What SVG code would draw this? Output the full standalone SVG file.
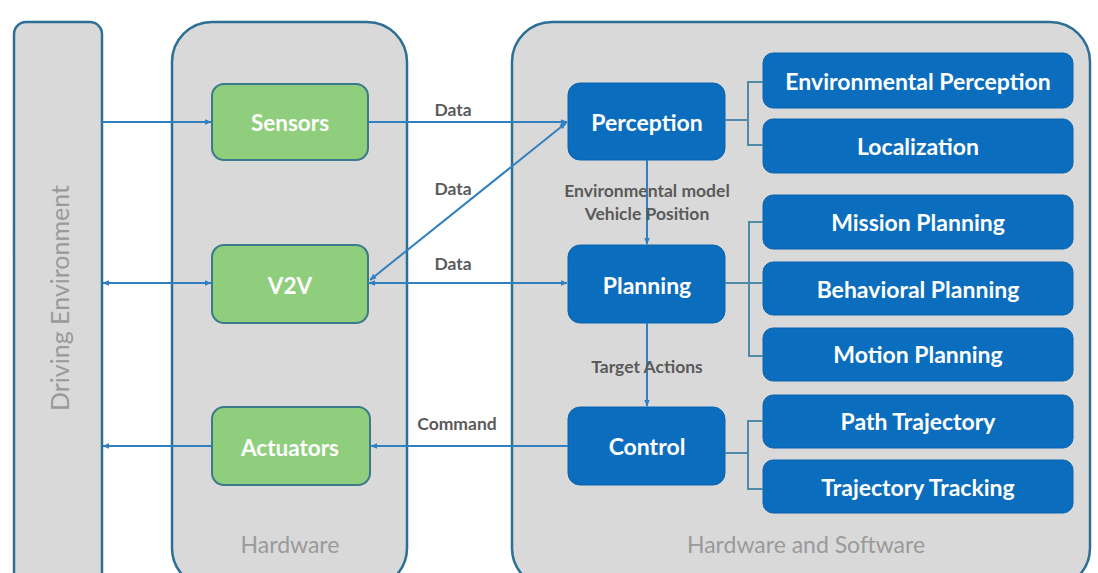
<svg xmlns="http://www.w3.org/2000/svg" width="1098" height="573" viewBox="0 0 1098 573">
<defs>
<marker id="ah" viewBox="0 0 10 10" refX="9" refY="5" markerWidth="7" markerHeight="7" orient="auto-start-reverse" markerUnits="userSpaceOnUse">
<path d="M0,1 L10,5 L0,9 z" fill="#2f7fc1"/>
</marker>
<style>
.cont{fill:#d9d9d9;stroke:#2e6f96;stroke-width:2.5}
.green{fill:#8fce7c;stroke:#3a7a8a;stroke-width:2}
.blue{fill:#0b6dbd;stroke:#0b63ad;stroke-width:1}
.wt{font-family:Lato,"Open Sans","Liberation Sans",sans-serif;font-weight:bold;fill:#ffffff;text-anchor:middle;dominant-baseline:central}
.gt{font-family:Lato,"Open Sans","Liberation Sans",sans-serif;fill:#9a9a9a;text-anchor:middle;dominant-baseline:central}
.lt{font-family:Lato,"Open Sans","Liberation Sans",sans-serif;font-weight:bold;fill:#5a5a5a;font-size:17.5px;text-anchor:middle;dominant-baseline:central}
.ln{stroke:#2f7fc1;stroke-width:2;fill:none}
.br{stroke:#4f8aa8;stroke-width:2;fill:none}
</style>
</defs>
<rect width="1098" height="573" fill="#ffffff"/>
<g id="driving-environment">
<rect class="cont" x="14" y="22" width="88" height="566" rx="12"/>
<text class="gt" font-size="25" fill="#a8a8a8" transform="translate(59,298) rotate(-90)">Driving Environment</text>
</g>
<g id="hardware">
<rect class="cont" x="172" y="22" width="235" height="566" rx="40"/>
<text class="gt" font-size="23" x="290" y="544">Hardware</text>
</g>
<g id="hardware-software">
<rect class="cont" x="512" y="22" width="578" height="566" rx="40"/>
<text class="gt" font-size="23" x="806" y="544">Hardware and Software</text>
</g>
<g id="sensors"><rect class="green" x="212" y="84" width="156" height="76" rx="12"/><text class="wt" font-size="22.5" x="290" y="122">Sensors</text></g>
<g id="v2v"><rect class="green" x="212" y="245" width="156" height="78" rx="12"/><text class="wt" font-size="22.5" x="290" y="285">V2V</text></g>
<g id="actuators"><rect class="green" x="212" y="407" width="158" height="78" rx="12"/><text class="wt" font-size="22.5" x="290" y="447">Actuators</text></g>
<g id="perception"><rect class="blue" x="568" y="83" width="157" height="77" rx="12"/><text class="wt" font-size="23" x="647" y="122">Perception</text></g>
<g id="planning"><rect class="blue" x="568" y="245" width="157" height="78" rx="12"/><text class="wt" font-size="23" x="647" y="285">Planning</text></g>
<g id="control"><rect class="blue" x="568" y="407" width="157" height="78" rx="12"/><text class="wt" font-size="23" x="647" y="446">Control</text></g>
<g id="environmental-perception"><rect class="blue" x="763" y="53" width="310" height="55" rx="10"/><text class="wt" font-size="23" x="918" y="81">Environmental Perception</text></g>
<g id="localization"><rect class="blue" x="763" y="119" width="310" height="54" rx="10"/><text class="wt" font-size="23" x="918" y="146">Localization</text></g>
<g id="mission-planning"><rect class="blue" x="763" y="195" width="310" height="54" rx="10"/><text class="wt" font-size="23" x="918" y="222">Mission Planning</text></g>
<g id="behavioral-planning"><rect class="blue" x="763" y="262" width="310" height="53" rx="10"/><text class="wt" font-size="23" x="918" y="289">Behavioral Planning</text></g>
<g id="motion-planning"><rect class="blue" x="763" y="328" width="310" height="53" rx="10"/><text class="wt" font-size="23" x="918" y="354">Motion Planning</text></g>
<g id="path-trajectory"><rect class="blue" x="763" y="395" width="310" height="53" rx="10"/><text class="wt" font-size="23" x="918" y="421">Path Trajectory</text></g>
<g id="trajectory-tracking"><rect class="blue" x="763" y="460" width="310" height="53" rx="10"/><text class="wt" font-size="23" x="918" y="487">Trajectory Tracking</text></g>
<g id="connectors">
<line class="ln" x1="102" y1="122" x2="211" y2="122" marker-end="url(#ah)"/>
<line class="ln" x1="368" y1="122" x2="567" y2="122" marker-end="url(#ah)"/>
<line class="ln" x1="370" y1="280" x2="566" y2="123" marker-start="url(#ah)" marker-end="url(#ah)"/>
<line class="ln" x1="369" y1="283" x2="567" y2="283" marker-start="url(#ah)" marker-end="url(#ah)"/>
<line class="ln" x1="103" y1="283" x2="211" y2="283" marker-start="url(#ah)" marker-end="url(#ah)"/>
<line class="ln" x1="568" y1="446" x2="371" y2="446" marker-end="url(#ah)"/>
<line class="ln" x1="212" y1="446" x2="103" y2="446" marker-end="url(#ah)"/>
<line class="ln" x1="647" y1="160" x2="647" y2="244" marker-end="url(#ah)"/>
<line class="ln" x1="647" y1="323" x2="647" y2="406" marker-end="url(#ah)"/>
<polyline class="br" points="725,120 748,120"/>
<polyline class="br" points="763,82 748,82 748,145 763,145"/>
<polyline class="br" points="725,283 763,283"/>
<polyline class="br" points="763,222 749,222 749,356 763,356"/>
<polyline class="br" points="725,453 748,453"/>
<polyline class="br" points="763,421 748,421 748,489 763,489"/>
<text class="lt" x="453" y="109">Data</text>
<text class="lt" x="453" y="188">Data</text>
<text class="lt" x="453" y="263">Data</text>
<text class="lt" x="457" y="423">Command</text>
<text class="lt" x="647" y="190">Environmental model</text>
<text class="lt" x="647" y="213">Vehicle Position</text>
<text class="lt" x="647" y="366">Target  Actions</text>
</g>
</svg>
